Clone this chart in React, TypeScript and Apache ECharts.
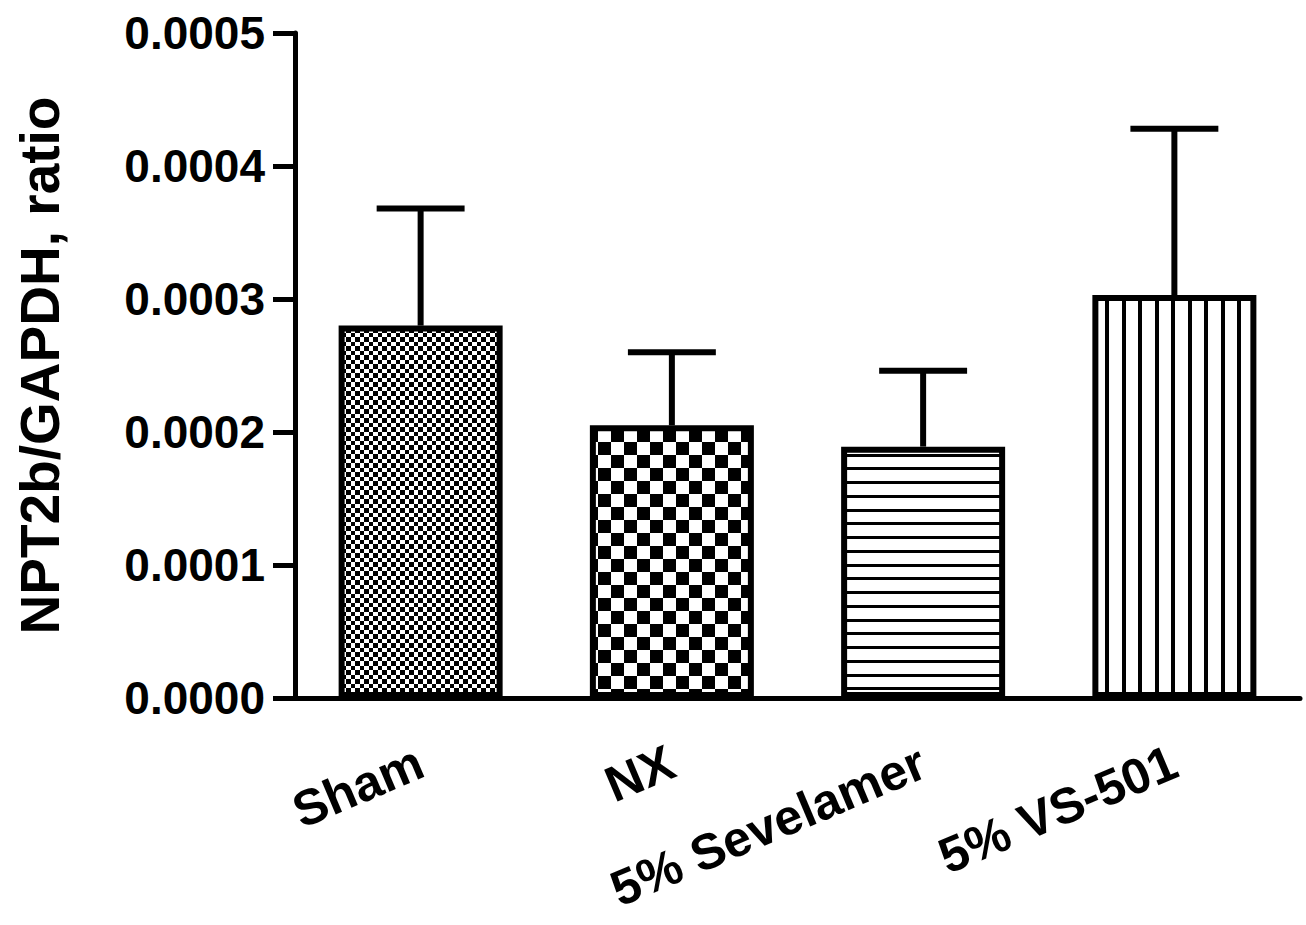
import React, { useEffect, useRef } from "react";
import * as echarts from "echarts";

const categories = ["Sham", "NX", "5% Sevelamer", "5% VS-501"];
const means = [0.00028, 0.000205, 0.000189, 0.000303];
const sems = [0.000088, 0.000055, 0.000057, 0.000125];
const yMin = 0;
const yMax = 0.0005;
const yInterval = 0.0001;

function makeCanvas(w: number, h: number, draw: (ctx: CanvasRenderingContext2D) => void) {
  const c = document.createElement("canvas");
  c.width = w;
  c.height = h;
  const ctx = c.getContext("2d")!;
  ctx.fillStyle = "#fff";
  ctx.fillRect(0, 0, w, h);
  ctx.fillStyle = "#000";
  draw(ctx);
  return c;
}

function checker(a: number, b: number) {
  const t = a + b;
  return makeCanvas(t, t, (ctx) => {
    ctx.fillRect(0, 0, a, a);
    ctx.fillRect(a, a, b, b);
  });
}

function hLines() {
  return makeCanvas(8, 55, (ctx) => {
    [0, 14, 27, 41].forEach((y) => ctx.fillRect(0, y, 8, 3));
  });
}

function vLines() {
  return makeCanvas(33, 8, (ctx) => {
    [0, 16].forEach((x) => ctx.fillRect(x, 0, 4, 8));
  });
}

export default function App() {
  const ref = useRef<HTMLDivElement>(null);
  useEffect(() => {
    if (!ref.current) return;
    const chart = echarts.init(ref.current, null, { renderer: "svg" });
    const patterns = [checker(4, 5), checker(13, 13), hLines(), vLines()];
    const font = "'Liberation Sans', Arial, sans-serif";
    chart.setOption({
      animation: false,
      backgroundColor: "#fff",
      grid: {
        left: 295,
        right: 6,
        top: 33,
        bottom: 227,
        containLabel: false,
        outerBoundsMode: "none",
      },
      xAxis: {
        type: "category",
        data: categories,
        boundaryGap: true,
        axisLine: { lineStyle: { color: "#000", width: 5 } },
        axisTick: { alignWithLabel: true, length: 22, lineStyle: { color: "#000", width: 5 } },
        axisLabel: {
          rotate: 23,
          margin: 62,
          color: "#000",
          fontSize: 50,
          fontWeight: "bold",
          fontFamily: font,
          interval: 0,
        },
      },
      yAxis: {
        type: "value",
        min: yMin,
        max: yMax,
        interval: yInterval,
        name: "NPT2b/GAPDH, ratio",
        nameLocation: "middle",
        nameGap: 228,
        nameTextStyle: { color: "#000", fontSize: 55, fontWeight: "bold", fontFamily: font },
        splitLine: { show: false },
        axisLine: { show: true, lineStyle: { color: "#000", width: 5 } },
        axisTick: { show: true, length: 22, lineStyle: { color: "#000", width: 5 } },
        axisLabel: {
          margin: 30,
          color: "#000",
          fontSize: 46,
          fontWeight: "bold",
          fontFamily: font,
          formatter: (v: number) => v.toFixed(4),
        },
      },
      series: [
        {
          type: "bar",
          barWidth: 164,
          data: means.map((m, i) => ({
            value: m,
            itemStyle: {
              color: { image: patterns[i], repeat: "repeat" },
              borderColor: "#000",
              borderWidth: 6,
            },
          })),
          z: 2,
        },
        {
          type: "custom",
          z: 5,
          data: categories.map((c, i) => [i, means[i], means[i] + sems[i]]),
          encode: { x: 0, y: [1, 2] },
          renderItem: (params: any, api: any) => {
            const i = api.value(0);
            const p0 = api.coord([i, api.value(1)]);
            const p1 = api.coord([i, api.value(2)]);
            const half = api.size([1, 0])[0] * 0.175;
            return {
              type: "group",
              children: [
                {
                  type: "line",
                  shape: { x1: p0[0], y1: p0[1], x2: p1[0], y2: p1[1] },
                  style: { stroke: "#000", lineWidth: 6 },
                },
                {
                  type: "line",
                  shape: { x1: p1[0] - half, y1: p1[1], x2: p1[0] + half, y2: p1[1] },
                  style: { stroke: "#000", lineWidth: 6 },
                },
              ],
            };
          },
        },
      ],
    });
    return () => chart.dispose();
  }, []);
  return (
    <div
      ref={ref}
      style={{ position: "fixed", left: 0, top: 0, width: 1306, height: 925, background: "#fff" }}
    />
  );
}
